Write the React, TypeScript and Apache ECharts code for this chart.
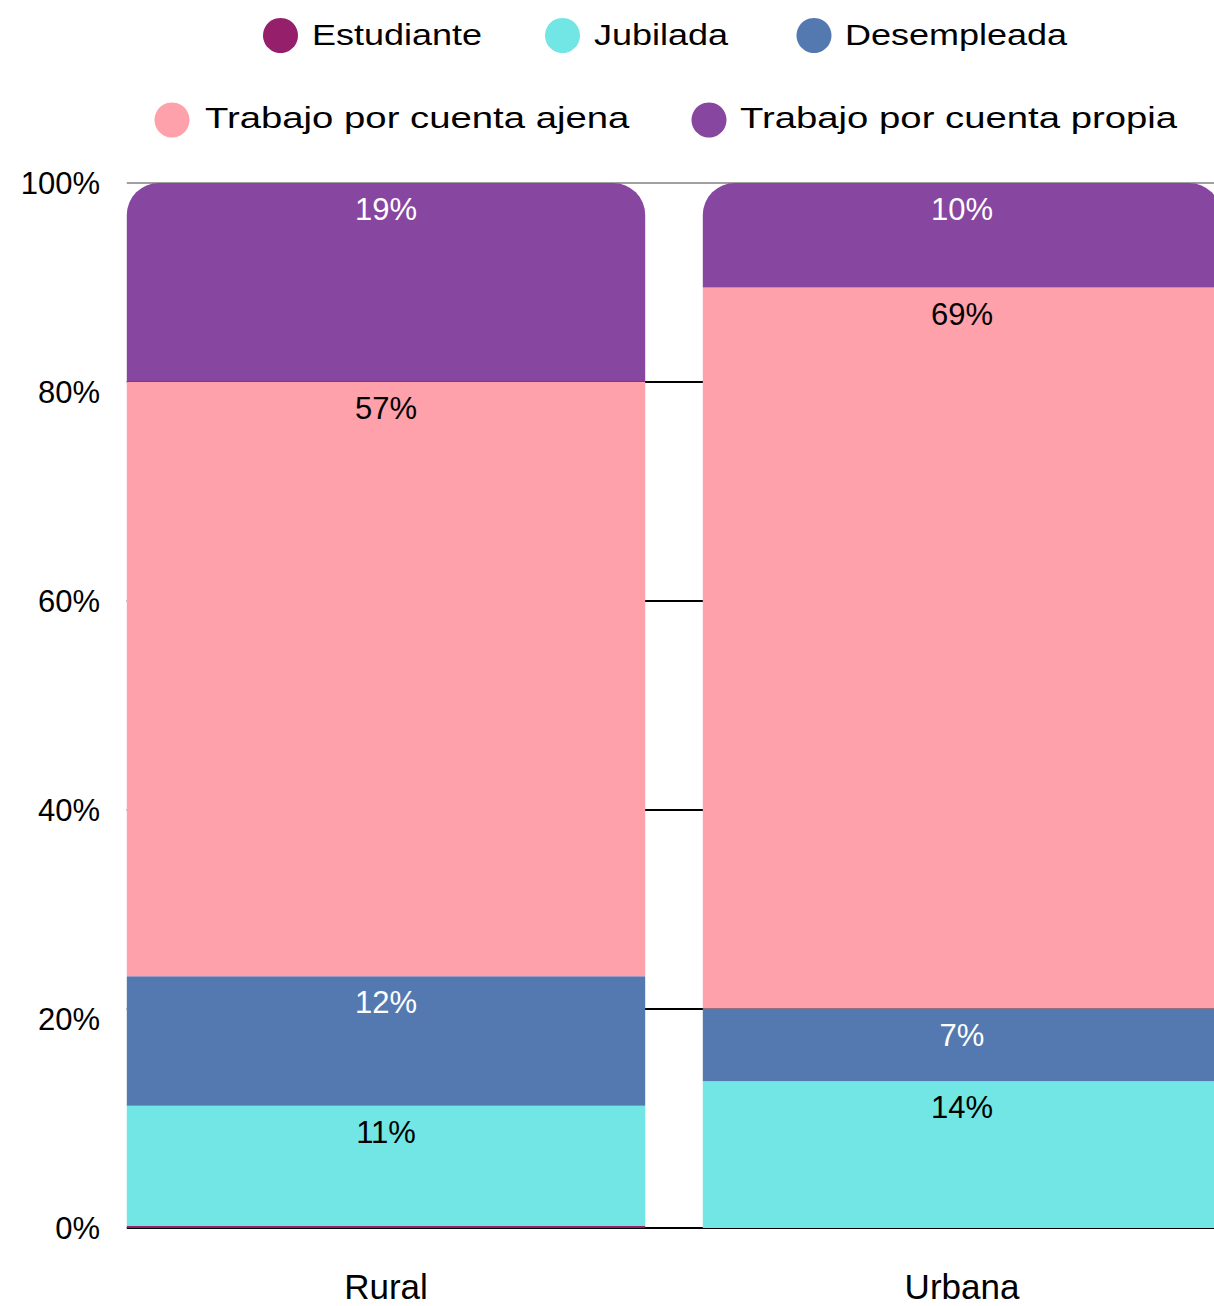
import React, { useEffect, useRef } from "react";
import * as echarts from "echarts";

const categories = ["Rural", "Urbana"];
const seriesNames = [
  "Estudiante",
  "Jubilada",
  "Desempleada",
  "Trabajo por cuenta ajena",
  "Trabajo por cuenta propia",
];
const estudiante = [0.2, 0];
const jubilada = [11.49, 14.05];
const desempleada = [12.4, 6.95];
const ajena = [56.9, 69.0];
const propia = [19.01, 10.0];
const gridLevels = [0, 20.96, 40, 60, 80.96, 100];

const seriesValues = [estudiante, jubilada, desempleada, ajena, propia];
const colors = ["#961F6B", "#72E6E4", "#5479B1", "#FFA1AA", "#8746A0"];
const labelColors = ["#ffffff", "#000000", "#ffffff", "#000000", "#ffffff"];

const FONT = '"Liberation Sans", Arial, sans-serif';

// legend layout (index into seriesNames, circle center x, text x, row y, text y, scale)
const legendRows = [
  { items: [0, 1, 2], cx: [280.5, 562.5, 814], tx: [312, 594, 845], cy: 35.5, ty: 35, sx: 1.2 },
  { items: [3, 4], cx: [172, 709], tx: [205, 740], cy: 120, ty: 118, sx: 1.277 },
];

export default function App() {
  const ref = useRef<HTMLDivElement>(null);

  useEffect(() => {
    if (!ref.current) return;
    const chart = echarts.init(ref.current, null, { renderer: "svg" });

    const graphics: any[] = [];
    legendRows.forEach((row) => {
      row.items.forEach((si, k) => {
        graphics.push({
          type: "circle",
          shape: { cx: row.cx[k], cy: row.cy, r: 17.5 },
          style: { fill: colors[si] },
        });
        graphics.push({
          type: "text",
          x: row.tx[k],
          y: row.ty,
          scaleX: row.sx,
          style: {
            text: seriesNames[si],
            fontSize: 30,
            fontFamily: FONT,
            fill: "#000",
            verticalAlign: "middle",
            align: "left",
          },
        });
      });
    });

    const barSeries = seriesNames.map((name, i) => ({
      name,
      type: "bar",
      stack: "total",
      barCategoryGap: "10%",
      data: seriesValues[i],
      itemStyle: {
        color: colors[i],
        borderRadius: i === seriesNames.length - 1 ? [32, 32, 0, 0] : 0,
      },
      label: {
        show: i !== 0,
        position: "insideTop",
        distance: 11,
        fontSize: 31,
        fontFamily: FONT,
        color: labelColors[i],
        formatter: (p: any) => (p.value >= 1 ? Math.round(p.value) + "%" : ""),
      },
      z: 2,
    }));

    const lineSeries = {
      name: "grid-lines",
      type: "line",
      xAxisIndex: 1,
      yAxisIndex: 0,
      data: [],
      silent: true,
      z: 1,
      markLine: {
        silent: true,
        z: 1,
        symbol: ["none", "none"],
        label: { show: false },
        lineStyle: { type: "solid", color: "#000", width: 2 },
        data: gridLevels.map((lvl) => [
          {
            coord: [0.05, lvl],
            lineStyle: {
              type: "solid",
              color: lvl === 100 ? "#808080" : "#000000",
              width: lvl === 100 ? 1.5 : 2,
            },
          },
          { coord: [2, lvl] },
        ]),
      },
    };

    chart.setOption({
      animation: false,
      textStyle: { fontFamily: FONT },
      grid: { left: 98, top: 183, width: 1152, height: 1045 },
      xAxis: [
        {
          type: "category",
          data: categories,
          axisLine: { show: false },
          axisTick: { show: false },
          axisLabel: { fontSize: 35, color: "#000", margin: 41, fontFamily: FONT },
        },
        { type: "value", min: 0, max: 2, show: false },
      ],
      yAxis: {
        type: "value",
        min: 0,
        max: 100,
        interval: 20,
        axisLine: { show: false },
        axisTick: { show: false },
        splitLine: { show: false },
        axisLabel: {
          formatter: "{value}%",
          fontSize: 31,
          color: "#000",
          margin: -2,
          fontFamily: FONT,
        },
      },
      graphic: graphics,
      series: [...barSeries, lineSeries],
    });

    return () => chart.dispose();
  }, []);

  return (
    <div
      ref={ref}
      style={{ position: "fixed", left: 0, top: 0, width: 1260, height: 1306, background: "#fff" }}
    />
  );
}
